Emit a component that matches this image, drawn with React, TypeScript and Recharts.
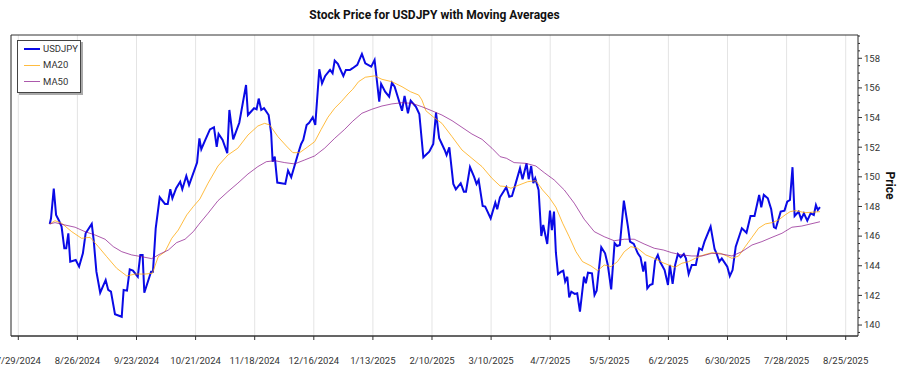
import React from 'react';
import { LineChart, Line, XAxis, YAxis, CartesianGrid, ReferenceArea } from 'recharts';

// x values are calendar days counted from 2024-07-29 (day 0)
const xTickDays = [0, 28, 56, 84, 112, 140, 168, 196, 224, 252, 280, 308, 336, 364, 392];
const xTickLabels = ['7/29/2024', '8/26/2024', '9/23/2024', '10/21/2024', '11/18/2024', '12/16/2024', '1/13/2025', '2/10/2025', '3/10/2025', '4/7/2025', '5/5/2025', '6/2/2025', '6/30/2025', '7/28/2025', '8/25/2025'];
const yMajorTicks = [140, 142, 144, 146, 148, 150, 152, 154, 156, 158];

const usdjpyDays = [
  14.9, 15.5, 16.8, 17.9, 19.3, 20.5, 21.8, 22.7, 23.7, 24.6, 27.2, 28.8, 30.6, 31.9, 34.8, 35.7, 37.0, 38.8, 41.4, 42.6,
  43.9, 45.8, 49.0, 49.9, 51.5, 52.8, 54.3, 56.6, 57.8, 58.9, 59.7, 62.9, 63.8, 65.1, 67.0, 69.5, 70.8, 72.0, 73.0, 74.8,
  76.7, 77.7, 79.6, 80.9, 84.7, 85.8, 86.7, 88.6, 90.8, 92.7, 94.0, 94.9, 96.8, 99.0, 100.0, 101.8, 104.7, 107.9, 108.8, 111.7,
  112.9, 113.9, 115.1, 116.4, 118.6, 119.8, 120.5, 121.5, 122.7, 126.5, 127.8, 129.3, 132.5, 134.0, 135.0, 136.6, 137.8, 139.5, 140.7, 142.6,
  143.9, 145.4, 147.7, 148.9, 149.9, 151.4, 154.0, 155.2, 157.1, 158.4, 160.6, 162.8, 164.4, 167.2, 168.8, 171.0, 171.9, 173.8, 175.7, 177.0,
  178.3, 181.8, 183.0, 184.6, 185.9, 188.4, 190.0, 191.9, 194.7, 196.6, 197.9, 199.4, 202.0, 202.9, 204.2, 206.1, 207.3, 209.6, 211.1, 212.1,
  214.0, 215.9, 217.1, 218.1, 220.0, 221.2, 223.8, 226.0, 226.9, 228.2, 231.2, 232.6, 233.9, 235.2, 237.7, 238.9, 240.8, 241.8, 243.0, 244.0,
  244.9, 246.5, 247.8, 248.7, 250.6, 251.9, 252.8, 253.8, 254.7, 255.7, 257.2, 258.2, 259.1, 260.1, 261.0, 262.0, 263.6, 264.8, 266.1, 268.0,
  268.9, 269.9, 271.8, 273.0, 274.0, 276.2, 278.0, 279.3, 280.9, 282.5, 283.7, 285.0, 286.9, 288.8, 289.8, 291.6, 293.5, 294.8, 296.1, 297.0,
  298.0, 299.2, 300.5, 301.7, 303.0, 304.0, 306.2, 307.8, 308.7, 310.0, 311.2, 312.5, 313.8, 315.3, 316.3, 317.6, 319.1, 321.0, 322.6, 323.9,
  325.1, 328.0, 329.9, 330.8, 332.1, 333.3, 335.9, 337.1, 338.4, 339.9, 342.8, 345.0, 346.9, 348.8, 351.0, 352.0, 353.2, 355.1, 356.7, 358.0,
  358.9, 361.2, 363.0, 364.3, 365.6, 366.8, 367.8, 369.7, 370.9, 372.2, 373.8, 375.4, 376.9, 377.9, 378.8, 379.8,
];
const usdjpyPrices = [
  146.82, 147.2, 149.2, 147.43, 147.04, 146.64, 145.18, 145.18, 146.19, 144.28, 144.39, 143.94, 144.84, 146.19, 146.82, 145.74, 143.6, 142.18, 143.04, 142.37,
  142.25, 140.73, 140.56, 142.37, 142.32, 143.76, 143.67, 143.26, 144.73, 144.73, 142.18, 143.6, 143.6, 146.53, 148.62, 148.17, 148.17, 149.16, 148.55, 149.23,
  149.67, 149.16, 150.06, 149.45, 150.96, 152.6, 151.86, 152.49, 153.2, 153.34, 152.03, 152.89, 152.49, 151.59, 154.51, 152.53, 153.65, 156.2, 154.17, 154.63,
  154.56, 155.28, 154.51, 154.63, 154.17, 152.94, 151.02, 151.36, 149.61, 149.52, 150.42, 149.97, 151.54, 152.22, 152.49, 153.5, 153.65, 154.02, 153.5, 157.26,
  156.31, 156.81, 157.21, 156.99, 157.84, 157.62, 156.81, 157.21, 157.21, 157.33, 157.55, 158.29, 157.66, 157.43, 157.89, 155.07, 156.27, 155.75, 155.41, 156.35,
  156.08, 154.46, 155.46, 154.29, 155.14, 154.73, 154.24, 151.32, 151.7, 152.22, 154.33, 152.6, 151.81, 151.47, 151.99, 149.52, 149.16, 149.57, 149.0, 149.0,
  150.65, 150.01, 149.52, 149.79, 148.03, 147.99, 147.2, 148.26, 147.81, 148.62, 149.3, 148.66, 148.71, 149.34, 150.58, 149.84, 150.91, 149.84, 150.73, 149.57,
  149.9, 149.11, 146.01, 146.75, 145.47, 147.72, 146.41, 147.65, 144.88, 143.44, 143.6, 143.67, 142.93, 143.26, 141.87, 142.25, 142.1, 142.14, 140.9, 143.26,
  142.82, 143.53, 143.49, 142.03, 142.32, 145.25, 144.84, 144.05, 142.41, 145.52, 145.33, 145.4, 148.39, 146.68, 145.63, 145.47, 144.84, 144.57, 143.6, 144.28,
  142.48, 142.7, 142.77, 144.34, 144.73, 144.28, 143.71, 142.7, 144.05, 142.77, 144.05, 144.79, 144.57, 144.79, 144.5, 143.44, 144.05, 144.05, 145.18, 145.06,
  145.63, 146.64, 145.11, 144.84, 144.28, 144.5, 143.94, 143.31, 143.71, 145.29, 146.53, 146.23, 147.36, 147.36, 148.78, 147.95, 148.78, 148.55, 147.81, 146.6,
  146.53, 147.65, 147.72, 148.32, 148.44, 150.65, 147.36, 147.65, 147.14, 147.54, 147.04, 147.54, 147.43, 148.1, 147.76, 147.95,
];

const ma20Days = [
  14.9, 17.4, 20.5, 25.3, 30.0, 34.0, 37.9, 41.9, 46.6, 51.4, 55.3, 60.0, 63.5, 66.3, 69.5, 72.7, 75.8, 79.8, 82.9, 86.0,
  89.9, 94.6, 99.3, 104.0, 108.8, 113.5, 116.7, 119.1, 123.0, 127.0, 130.1, 133.3, 137.2, 140.4, 143.5, 146.7, 149.9, 153.0, 156.2, 158.4,
  161.2, 164.4, 168.8, 172.3, 177.0, 181.8, 185.7, 189.7, 191.2, 193.1, 196.8, 200.7, 205.5, 210.2, 214.9, 219.7, 224.4, 228.3, 231.3, 233.4,
  237.3, 241.3, 245.2, 248.4, 251.5, 254.7, 257.9, 261.0, 264.2, 267.3, 271.3, 274.5, 277.6, 280.8, 283.9, 287.1, 290.2, 293.4, 297.3, 301.3,
  305.5, 308.1, 311.2, 314.4, 317.6, 320.7, 324.7, 328.6, 332.6, 335.7, 338.1, 341.3, 344.4, 347.6, 350.7, 353.9, 357.1, 360.2, 363.3, 365.7,
  368.1, 372.8, 379.8,
];
const ma20Values = [
  146.82, 147.04, 146.87, 146.3, 145.85, 145.92, 145.29, 144.61, 143.83, 143.31, 143.44, 143.44, 143.49, 144.61, 144.95, 145.85, 146.41, 147.43, 147.99, 148.5,
  149.57, 150.73, 151.47, 151.93, 152.82, 153.43, 153.61, 153.5, 152.71, 152.08, 151.63, 151.63, 152.03, 152.37, 153.2, 154.02, 154.63, 155.07, 155.59, 155.9,
  156.42, 156.72, 156.81, 156.58, 156.42, 156.08, 155.75, 155.52, 155.19, 154.46, 154.02, 153.61, 152.71, 151.81, 151.25, 150.69, 149.9, 149.38, 149.34, 149.23,
  149.45, 149.67, 149.74, 149.11, 148.62, 147.95, 146.87, 145.96, 144.95, 144.28, 143.99, 143.67, 144.05, 143.94, 144.28, 144.95, 145.29, 145.18, 144.73, 144.5,
  144.2, 144.05, 143.9, 144.17, 144.28, 144.5, 144.73, 144.88, 144.84, 144.66, 144.5, 144.66, 145.29, 145.92, 146.53, 146.82, 146.91, 147.09, 147.43, 147.65,
  147.72, 147.58, 147.65,
];

const ma50Days = [
  14.9, 17.4, 22.1, 26.9, 31.6, 36.3, 41.1, 45.0, 49.0, 53.7, 58.5, 63.2, 67.1, 71.1, 75.0, 79.0, 82.9, 85.6, 89.9, 94.6,
  99.3, 104.0, 108.8, 113.5, 117.5, 121.5, 126.2, 130.9, 135.7, 140.4, 145.1, 149.9, 154.6, 158.4, 162.8, 167.5, 172.3, 177.0, 181.8, 186.5,
  191.2, 195.9, 200.7, 205.5, 210.2, 214.9, 219.7, 224.4, 228.3, 231.3, 234.9, 240.5, 245.2, 249.2, 253.9, 258.7, 263.4, 268.1, 272.9, 277.6,
  282.3, 287.1, 291.8, 296.5, 301.3, 305.7, 309.6, 314.4, 319.1, 323.9, 328.6, 333.3, 338.1, 342.8, 347.6, 352.3, 357.1, 361.8, 366.5, 371.2,
  379.8,
];
const ma50Values = [
  146.82, 146.91, 146.75, 146.6, 146.3, 146.08, 145.79, 145.29, 144.95, 144.73, 144.61, 144.48, 144.79, 145.06, 145.56, 145.79, 146.3, 146.8, 147.54, 148.39,
  149.0, 149.57, 150.19, 150.69, 151.02, 151.09, 150.96, 150.87, 151.14, 151.41, 151.93, 152.6, 153.2, 153.75, 154.29, 154.56, 154.78, 154.92, 155.0, 154.96,
  154.73, 154.46, 154.17, 153.79, 153.34, 152.89, 152.53, 151.93, 151.36, 151.25, 150.96, 150.91, 150.73, 150.28, 149.79, 149.11, 148.22, 147.14, 146.3, 145.96,
  145.69, 145.79, 145.79, 145.47, 145.18, 145.06, 144.88, 144.73, 144.66, 144.66, 144.84, 144.79, 144.66, 144.95, 145.4, 145.63, 145.92, 146.19, 146.6, 146.68,
  146.97,
];

const X_MIN = -3.46;
const X_MAX = 397.83;
const Y_MIN = 139.26;
const Y_MAX = 159.57;

const toPoints = (days: number[], vals: number[]) => days.map((d, i) => ({ day: d, value: vals[i] }));
const usdjpyData = toPoints(usdjpyDays, usdjpyPrices);
const ma20Data = toPoints(ma20Days, ma20Values);
const ma50Data = toPoints(ma50Days, ma50Values);

const series = [
  { name: 'USDJPY', data: usdjpyData, color: '#0a0ae6', width: 2, opacity: 1 },
  { name: 'MA20', data: ma20Data, color: '#ffa500', width: 1, opacity: 0.75 },
  { name: 'MA50', data: ma50Data, color: '#800080', width: 1, opacity: 0.65 },
];

const yAllTicks: number[] = [];
for (let v = 139.5; v <= 159.5; v += 0.5) yAllTicks.push(v);

const FONT = 'Roboto, "Noto Sans", sans-serif';

const YTick = (props: any) => {
  const { x, y, payload } = props;
  const v = payload.value;
  const major = yMajorTicks.includes(v);
  return (
    <g>
      <line x1={x} y1={y} x2={x + (major ? 4 : 2)} y2={y} stroke="#333" strokeWidth={1} />
      {major && (
        <text x={x + 6} y={y} dy="0.35em" fontSize={9.5} fill="#333" fontFamily={FONT} textAnchor="start">
          {v}
        </text>
      )}
    </g>
  );
};

const PriceLabel = (props: any) => {
  const vb = props.viewBox || { x: 858, y: 35, width: 30, height: 301 };
  const cx = vb.x + vb.width + 2;
  const cy = vb.y + vb.height / 2;
  return (
    <text x={cx} y={cy} transform={`rotate(90 ${cx} ${cy})`} textAnchor="middle" dominantBaseline="central" fontSize={12} fontWeight="bold" fill="#111" fontFamily={FONT}>
      Price
    </text>
  );
};

export default function App() {
  return (
    <div style={{ position: 'absolute', left: 0, top: 0, width: 900, height: 375, background: '#fff' }}>
      <div style={{ position: 'absolute', left: 11, top: 6, width: 847, textAlign: 'center', fontFamily: FONT, fontWeight: 'bold', fontSize: 12, lineHeight: '18px', color: '#111' }}>
        Stock Price for USDJPY with Moving Averages
      </div>
      <LineChart width={900} height={375} margin={{ top: 35, left: 11, right: 12, bottom: 9 }}>
        <CartesianGrid horizontal={false} stroke="#e4e4e4" strokeWidth={1} />
        <XAxis
          dataKey="day"
          type="number"
          domain={[X_MIN, X_MAX]}
          allowDataOverflow
          ticks={xTickDays}
          interval={0}
          tickFormatter={(v: number) => xTickLabels[xTickDays.indexOf(v)] ?? ''}
          tickSize={4}
          tickMargin={17}
          height={30}
          axisLine={{ stroke: '#333' }}
          tickLine={{ stroke: '#333' }}
          tick={{ fontSize: 9.5, fill: '#333', fontFamily: FONT }}
        />
        <YAxis
          orientation="right"
          type="number"
          domain={[Y_MIN, Y_MAX]}
          allowDataOverflow
          ticks={yAllTicks}
          interval={0}
          tickSize={0}
          tickMargin={0}
          tickLine={false}
          axisLine={false}
          width={30}
          tick={<YTick />}
          label={<PriceLabel />}
        />
        {series.map((s) => (
          <Line
            key={s.name}
            data={s.data}
            dataKey="value"
            name={s.name}
            type="linear"
            stroke={s.color}
            strokeWidth={s.width}
            strokeOpacity={s.opacity}
            dot={false}
            activeDot={false}
            isAnimationActive={false}
          />
        ))}
        <ReferenceArea x1={X_MIN} x2={X_MAX} y1={Y_MIN} y2={Y_MAX} fill="none" stroke="#333" strokeWidth={1} />
      </LineChart>
      <div style={{ position: 'absolute', left: 17, top: 40, width: 62, height: 51, border: '1px solid #444', background: '#fff', boxShadow: '2px 2px 0 #aaa', fontFamily: FONT }}>
        {series.map((s, i) => (
          <div key={s.name} style={{ position: 'absolute', left: 0, top: 8 + i * 16.3 - 8, height: 16, width: 62 }}>
            <div style={{ position: 'absolute', left: 6, top: 8 - s.width / 2, width: 16, height: s.width, background: s.color, opacity: s.opacity }} />
            <div style={{ position: 'absolute', left: 25, top: 0, lineHeight: '16px', fontSize: 9.5, color: '#333' }}>{s.name}</div>
          </div>
        ))}
      </div>
    </div>
  );
}
